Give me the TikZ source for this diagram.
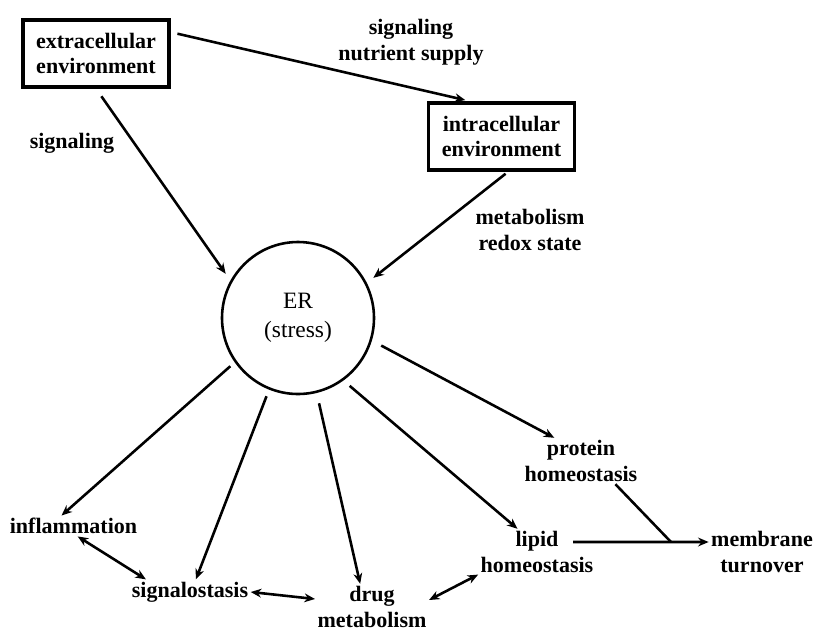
\documentclass[tikz,border=0pt]{standalone}
\usepackage{fontspec}
\setmainfont{Liberation Serif}
\usetikzlibrary{arrows.meta,calc,positioning}

\begin{document}
\begin{tikzpicture}[x=0.03cm,y=-0.03cm,>={Stealth[length=9pt,width=7.5pt]},
  every node/.style={font=\fontsize{18.8}{22}\selectfont\bfseries,align=center,inner sep=2pt},
  envbox/.style={draw,line width=2.7pt,minimum width=4.38cm,minimum height=2.01cm},
  link/.style={->,line width=2.2pt}]
  \useasboundingbox (0,0) rectangle (813,632);
  % environments
  \node[envbox] (ext) at (96,53.5) {extracellular\\environment};
  \node[envbox] (int) at (501.5,136.5) {intracellular\\environment};
  \node (sigtop) at (411,42) {signaling\\nutrient supply};
  \node (sigleft) at (72,143) {signaling};
  \node (metab) at (530,230) {metabolism\\redox state};
  % ER
  \node[circle,draw,line width=2.2pt,minimum size=4.56cm,
        font=\fontsize{20}{25}\selectfont] (er) at (298,318) {ER\\(stress)};
  % outputs
  \node (infl) at (73.5,526) {inflammation};
  \node (sig) at (190,592) {signalostasis};
  \node (drug) at (372,607) {drug\\metabolism};
  \node (lip) at (537,552) {lipid\\homeostasis};
  \node (prot) at (581,461) {protein\\homeostasis};
  \node (mem) at (762,552) {membrane\\turnover};
  \coordinate (jn) at (671,542);
  \draw[link,shorten <=6pt,shorten >=5pt] (ext.16) -- (int.131);
  \draw[link,shorten <=8pt,shorten >=7pt] (ext.south) -- (er.151);
  \draw[link,shorten <=3pt,shorten >=7pt] (int.-79) -- (er.27);
  \draw[link,shorten <=5pt] (er.215) -- (infl.139);
  \draw[link,shorten <=6pt] (er.248) -- (sig.65);
  \draw[link,shorten <=9pt] (er.284) -- (drug.117);
  \draw[link,shorten <=7pt] (er.306) -- (lip.130);
  \draw[link,shorten <=9pt] (er.343) -- (prot.139);
  \draw[link,<->] (infl.-68) -- (sig.164);
  \draw[link,<->] (sig.0) -- (drug.172);
  \draw[link,<->] (drug.7) -- (lip.201);
  \draw[link] ([xshift=1.08cm,yshift=0.3cm]lip.center) -- (mem.west |- jn);
  \draw[line width=2.2pt] (prot.-34) -- (jn);
\end{tikzpicture}
\end{document}
